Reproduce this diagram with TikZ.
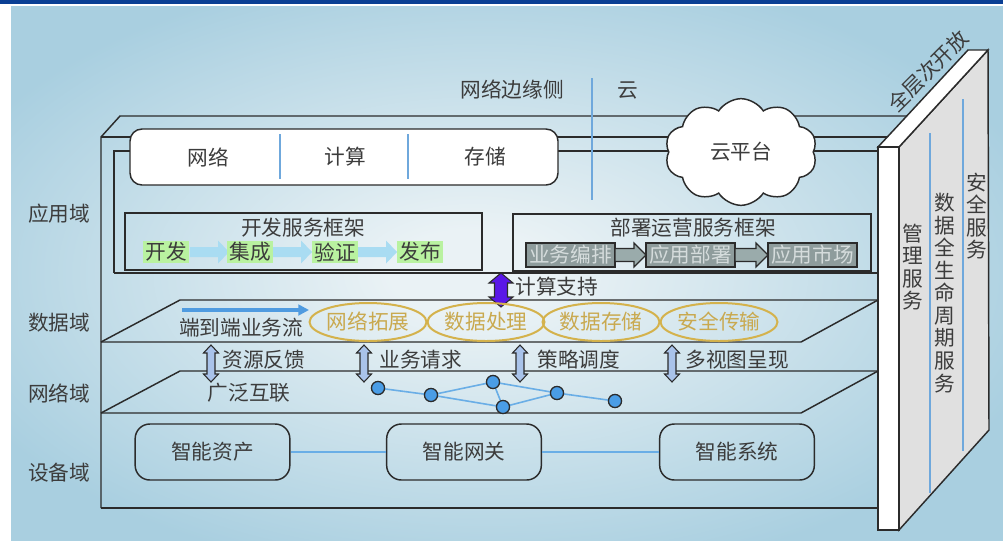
\documentclass[tikz,border=0pt]{standalone}
\usepackage{fontspec}
\setmainfont{Noto Sans CJK SC}
\usetikzlibrary{shapes.symbols,shapes.geometric,arrows.meta,calc}
\definecolor{linec}{HTML}{2B2B2B}
\definecolor{txt}{HTML}{3C3C3C}
\definecolor{lblue}{HTML}{6FA8DC}
\definecolor{goldc}{HTML}{D4B24C}
\definecolor{goldt}{HTML}{C9A94F}
\definecolor{stepgreen}{HTML}{B9F2A0}
\definecolor{stepcyan}{HTML}{A9DCF2}
\definecolor{grayfill}{HTML}{8E9C9C}
\definecolor{graytext}{HTML}{D5DCDC}
\definecolor{grayarrow}{HTML}{9AABAB}
\definecolor{purp}{HTML}{5A17E8}
\definecolor{dblfill}{HTML}{A9C3EA}
\definecolor{netfill}{HTML}{4A9DE6}
\definecolor{netline}{HTML}{6AAEE6}
\definecolor{flowblue}{HTML}{4F9BE0}
\definecolor{wallside}{HTML}{E0E0E0}
\definecolor{barblue}{HTML}{0A3F94}
\definecolor{bgin}{HTML}{EAF2F5}
\definecolor{bgout}{HTML}{A9CFE0}
\pgfdeclareradialshading{bgshade}{\pgfpoint{-2bp}{0bp}}{color(0bp)=(bgin); color(4bp)=(bgin); color(29bp)=(bgout); color(50bp)=(bgout)}
% horizontal block arrow: style, x1, x2, y, body half, head half, head length
\newcommand{\harrow}[7]{\path[#1] (#2,#4-#5) -- (#3-#7,#4-#5) -- (#3-#7,#4-#6) -- (#3,#4) -- (#3-#7,#4+#6) -- (#3-#7,#4+#5) -- (#2,#4+#5) -- cycle;}
% vertical double block arrow: style, x, y1, y2, body half, head half, head length
\newcommand{\vdarrow}[7]{\path[#1] (#2-#5,#3+#7) -- (#2-#6,#3+#7) -- (#2,#3) -- (#2+#6,#3+#7) -- (#2+#5,#3+#7) -- (#2+#5,#4-#7) -- (#2+#6,#4-#7) -- (#2,#4) -- (#2-#6,#4-#7) -- (#2-#5,#4-#7) -- cycle;}
\begin{document}
\begin{tikzpicture}[x=0.75pt,y=-0.75pt,
  every node/.style={font=\fontsize{15.5}{17}\selectfont, text=txt},
  frame/.style={draw=linec, line width=1.1pt},
  lbl/.style={inner sep=1pt},
  greenstep/.style={fill=stepgreen, inner xsep=2pt, inner ysep=0.5pt, minimum height=16pt},
  graystep/.style={fill=grayfill, draw=linec, line width=0.9pt, text=graytext, minimum width=66.75pt, minimum height=18pt, inner sep=0pt},
  goldell/.style={ellipse, draw=goldc, line width=1.5pt, text=goldt, minimum width=81pt, minimum height=28.5pt, inner sep=0pt},
  netnode/.style={circle, fill=netfill, draw=linec, line width=0.9pt, minimum size=9.75pt, inner sep=0pt},
  netedge/.style={draw=netline, line width=1.2pt},
  devbox/.style={draw=linec, line width=1.1pt, rounded corners=11pt, minimum width=116pt, minimum height=42pt},
  dbl/.style={fill=dblfill, draw=linec, line width=0.8pt},
  vlabel/.style={align=center, font=\fontsize{15.5}{16.9}\selectfont, inner sep=0pt}
]
\useasboundingbox (0,0) rectangle (1003,540);
\fill[white] (0,0) rectangle (1003,540);
\shade[shading=bgshade] (11,6) rectangle (1003,540);
\fill[barblue] (0,0) rectangle (1003,4);

% frame lines
\draw[frame] (101,508) -- (101,137) -- (120,116) -- (907,116);
\draw[frame] (101,137) -- (887,137);
\draw[frame] (114,273) -- (114,151) -- (878,151);
\draw[frame] (114,273) -- (878,273);
\draw[frame] (101,342) -- (180,300) -- (878,300);
\draw[frame] (101,342) -- (801,342) -- (878,300);
\draw[frame] (101,413) -- (180,371) -- (878,371);
\draw[frame] (101,413) -- (801,413) -- (878,371);
\draw[frame] (101,508) -- (878,508);

% top labels
\node[lbl] (edgelbl) at (512,90) {网络边缘侧};
\node[lbl] (cloudlbl) at (628,90) {云};
\draw[lblue, line width=1.2pt] (592,78) -- (592,200);

% resource box
\node[draw=linec, line width=1.1pt, fill=white, rounded corners=9pt, minimum width=321pt, minimum height=42pt] (resbox) at (344,157) {};
\node[lbl] (net) at (208,157) {网络};
\node[lbl] (comp) at (345,157) {计算};
\node[lbl] (stor) at (485,157) {存储};
\draw[lblue, line width=1.2pt] (280,134) -- (280,179);
\draw[lblue, line width=1.2pt] (408,134) -- (408,179);

% cloud
\node[cloud, cloud puffs=10, cloud puff arc=115, aspect=1.45, draw=linec, fill=white, line width=1.1pt, minimum width=114pt, minimum height=80pt, inner sep=0pt] (cloud) at (741,152) {云平台};

% dev frame
\node[draw=linec, line width=1.3pt, minimum width=267.75pt, minimum height=42.75pt, inner sep=0pt] (devbox) at (303.5,241.5) {};
\node[lbl] (devtitle) at (303,228) {开发服务框架};
\harrow{fill=stepcyan}{190}{229}{252}{5}{11.5}{11}
\harrow{fill=stepcyan}{273}{312}{252}{5}{11.5}{11}
\harrow{fill=stepcyan}{358}{397}{252}{5}{11.5}{11}
\node[greenstep] (d1) at (166,252) {开发};
\node[greenstep] (d2) at (250,252) {集成};
\node[greenstep] (d3) at (335,252) {验证};
\node[greenstep] (d4) at (420,252) {发布};

% deploy frame
\node[draw=linec, line width=1.3pt, minimum width=268.5pt, minimum height=42.75pt, inner sep=0pt] (depbox) at (692,242.5) {};
\node[lbl] (deptitle) at (693,228) {部署运营服务框架};
\node[graystep] (g1) at (570.5,255) {业务编排};
\node[graystep] (g2) at (690.5,255) {应用部署};
\node[graystep] (g3) at (812.5,255) {应用市场};
\harrow{fill=grayarrow, draw=linec, line width=0.9pt}{615}{646}{255}{6.5}{12}{12}
\harrow{fill=grayarrow, draw=linec, line width=0.9pt}{735}{768}{255}{6.5}{12}{12}

% compute support
\vdarrow{fill=purp, draw=linec, line width=0.8pt}{501}{273}{307}{6.5}{12}{10}
\node[lbl, anchor=west] (csup) at (514,287) {计算支持};

% data domain
\coordinate (flowA) at (182,310);
\coordinate (flowB) at (309,310);
\draw[flowblue, line width=3pt, -{Triangle[length=8pt,width=8pt]}] (flowA) -- (flowB);
\node[lbl] (e2e) at (241,328) {端到端业务流};
\node[goldell] (el1) at (368,322) {网络拓展};
\node[goldell] (el2) at (486,322) {数据处理};
\node[goldell] (el3) at (601,322) {数据存储};
\node[goldell] (el4) at (719,322) {安全传输};

% between data and network
\vdarrow{dbl}{211}{345}{382}{4}{7.5}{8}
\vdarrow{dbl}{364}{345}{382}{4}{7.5}{8}
\vdarrow{dbl}{520}{345}{382}{4}{7.5}{8}
\vdarrow{dbl}{672}{345}{382}{4}{7.5}{8}
\node[lbl, anchor=west] (fb) at (221,360) {资源反馈};
\node[lbl, anchor=west] (req) at (378,360) {业务请求};
\node[lbl, anchor=west] (pol) at (536,360) {策略调度};
\node[lbl, anchor=west] (view) at (684,360) {多视图呈现};
\node[lbl] (wide) at (249,393) {广泛互联};

% network graph
\node[netnode] (n1) at (378,388) {};
\node[netnode] (n2) at (431,395) {};
\node[netnode] (n3) at (493,382) {};
\node[netnode] (n4) at (503,407) {};
\node[netnode] (n5) at (557,393) {};
\node[netnode] (n6) at (615,401) {};
\draw[netedge] (n1) -- (n2);
\draw[netedge] (n2) -- (n3);
\draw[netedge] (n2) -- (n4);
\draw[netedge] (n3) -- (n4);
\draw[netedge] (n3) -- (n5);
\draw[netedge] (n4) -- (n5);
\draw[netedge] (n5) -- (n6);
\foreach \n in {n1,n2,n3,n4,n5,n6}
  \node[netnode] at (\n) {};

% device domain
\node[devbox] (asset) at (212.5,452) {智能资产};
\node[devbox] (gw) at (464,452) {智能网关};
\node[devbox] (sys) at (737,452) {智能系统};
\draw[netline, line width=1.2pt] (asset) -- (gw);
\draw[netline, line width=1.2pt] (gw) -- (sys);

% left labels
\node[lbl] (lapp) at (59,214) {应用域};
\node[lbl] (ldata) at (59,323) {数据域};
\node[lbl] (lnet) at (59,393) {网络域};
\node[lbl] (ldev) at (59,473) {设备域};

% wall
\filldraw[fill=wallside, draw=linec, line width=1.1pt] (899,147) -- (988,50) -- (989,430) -- (899,530) -- cycle;
\filldraw[fill=white, draw=linec, line width=1.1pt] (878,147) -- (899,147) -- (988,50) -- (968,50) -- cycle;
\filldraw[fill=white, draw=linec, line width=1.1pt] (878,147) rectangle (899,530);
\draw[lblue, line width=1.2pt] (930,133) -- (930,493);
\draw[lblue, line width=1.2pt] (963,99) -- (963,451);
\node[vlabel] (mgmt) at (913,267) {管\\理\\服\\务};
\node[vlabel] (life) at (945,293) {数\\据\\全\\生\\命\\周\\期\\服\\务};
\node[vlabel] (sec) at (977,216) {安\\全\\服\\务};
\node[lbl, rotate=45] (open) at (928,71) {全层次开放};
\end{tikzpicture}
\end{document}
